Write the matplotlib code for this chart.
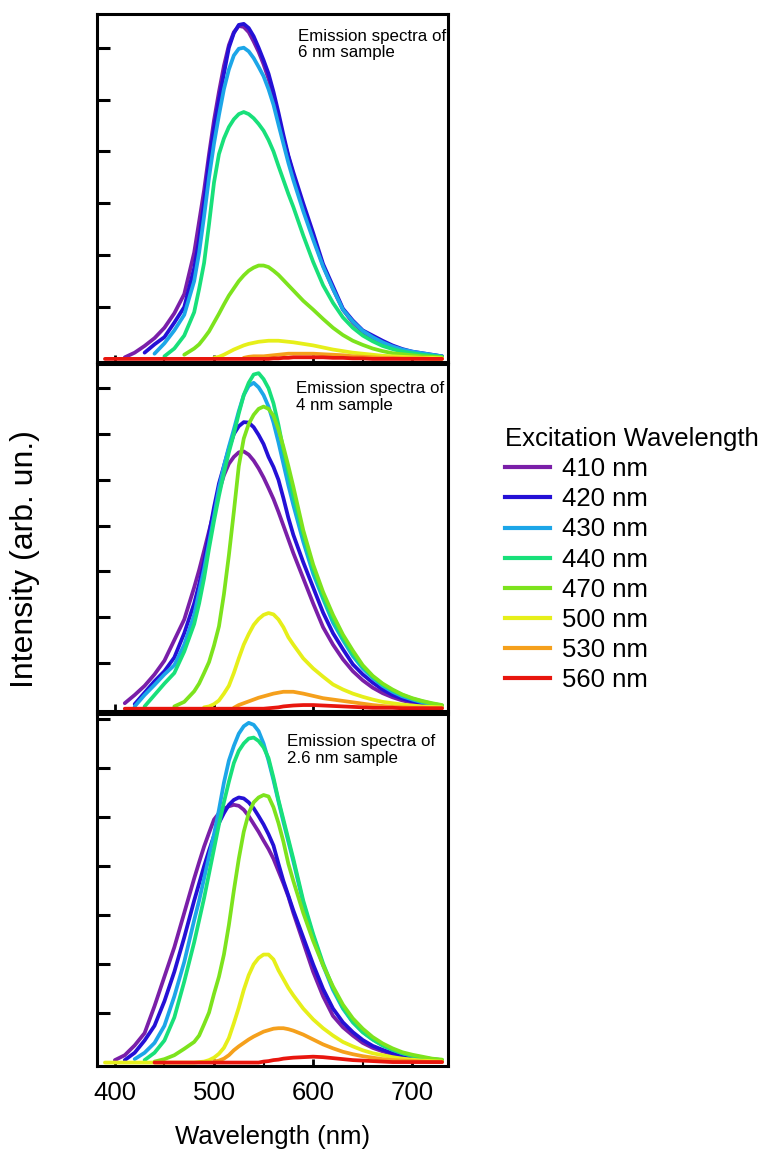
import numpy as np
import matplotlib
matplotlib.use('Agg')
import matplotlib.pyplot as plt
from matplotlib.lines import Line2D

plt.rcParams['font.family'] = ['Liberation Sans', 'DejaVu Sans']

nan = np.nan

# emission wavelength grid (nm), finer around the peaks
wavelengths = [390, 400, 410, 420, 430, 440, 450, 460, 470,
               480, 485, 490, 495, 500, 505, 510, 515, 520, 525, 530, 535, 540,
               545, 550, 555, 560, 565, 570, 575, 580,
               590, 600, 610, 620, 630, 640, 650, 660, 670, 680, 690, 700, 710, 720, 730]

excitation = ['410 nm', '420 nm', '430 nm', '440 nm', '470 nm', '500 nm', '530 nm', '560 nm']
colors = ['#7a1fa8', '#2410d6', '#1ca6e8', '#18e07a', '#7de31d', '#e6ef1a', '#f5a01c', '#e8160e']

# 6 nm sample
top_410 = [nan, nan, 0.03, 0.12, 0.25, 0.40, 0.60, 0.88, 1.25,
           2.05, 2.65, 3.25, 3.95, 4.60, 5.15, 5.65, 6.05, 6.30, 6.42, 6.40, 6.30, 6.12,
           5.92, 5.68, 5.40, 5.05, 4.65, 4.25, 3.90, 3.55,
           2.90, 2.35, 1.80, 1.35, 0.95, 0.70, 0.52, 0.40, 0.30, 0.22, 0.17, 0.13, 0.10, 0.07, 0.05]
top_420 = [nan, nan, nan, nan, 0.12, 0.28, 0.42, 0.70, 1.00,
           1.75, 2.30, 3.00, 3.82, 4.45, 5.00, 5.50, 6.00, 6.28, 6.44, 6.46, 6.38, 6.22,
           6.00, 5.76, 5.50, 5.15, 4.75, 4.32, 3.92, 3.60,
           3.00, 2.43, 1.83, 1.40, 0.97, 0.74, 0.55, 0.45, 0.35, 0.26, 0.19, 0.14, 0.11, 0.08, 0.05]
top_430 = [nan, nan, nan, nan, nan, 0.10, 0.30, 0.55, 0.85,
           1.50, 2.05, 2.75, 3.50, 4.15, 4.70, 5.20, 5.58, 5.85, 5.98, 6.00, 5.93, 5.80,
           5.63, 5.45, 5.20, 4.90, 4.52, 4.15, 3.78, 3.45,
           2.85, 2.30, 1.78, 1.35, 0.95, 0.72, 0.54, 0.42, 0.32, 0.24, 0.18, 0.14, 0.11, 0.08, 0.05]
top_440 = [nan, nan, nan, nan, nan, nan, 0.05, 0.20, 0.45,
           0.90, 1.35, 1.85, 2.60, 3.40, 3.95, 4.25, 4.47, 4.62, 4.72, 4.76, 4.72, 4.64,
           4.53, 4.40, 4.22, 4.00, 3.72, 3.45, 3.18, 2.93,
           2.38, 1.87, 1.42, 1.08, 0.80, 0.60, 0.45, 0.34, 0.25, 0.19, 0.14, 0.11, 0.08, 0.06, 0.04]
top_470 = [nan, nan, nan, nan, nan, nan, nan, nan, 0.08,
           0.20, 0.28, 0.40, 0.53, 0.70, 0.87, 1.05, 1.22, 1.36, 1.50, 1.61, 1.70, 1.76,
           1.80, 1.80, 1.77, 1.70, 1.62, 1.52, 1.42, 1.32,
           1.12, 0.95, 0.77, 0.60, 0.46, 0.35, 0.27, 0.20, 0.15, 0.11, 0.09, 0.07, 0.05, 0.04, 0.03]
top_500 = [nan, nan, nan, nan, nan, nan, nan, nan, nan,
           nan, nan, nan, nan, 0.02, 0.04, 0.08, 0.13, 0.18, 0.22, 0.26, 0.29, 0.31,
           0.33, 0.34, 0.35, 0.35, 0.35, 0.34, 0.33, 0.32,
           0.29, 0.26, 0.22, 0.18, 0.15, 0.12, 0.10, 0.08, 0.06, 0.05, 0.04, 0.03, 0.02, 0.02, 0.01]
top_530 = [nan, nan, nan, nan, nan, nan, nan, nan, nan,
           nan, nan, nan, nan, nan, nan, nan, nan, nan, nan, 0.02, 0.04, 0.05,
           0.05, 0.05, 0.06, 0.07, 0.08, 0.09, 0.10, 0.10,
           0.10, 0.10, 0.09, 0.08, 0.07, 0.05, 0.04, 0.03, 0.02, 0.02, 0.01, 0.01, 0.01, 0.00, 0.00]
top_560 = [0.00, 0.00, 0.00, 0.00, 0.00, 0.00, 0.00, 0.00, 0.00,
           0.00, 0.00, 0.00, 0.00, 0.00, 0.00, 0.00, 0.00, 0.00, 0.00, 0.00, 0.00, 0.00,
           0.00, 0.00, 0.00, 0.01, 0.01, 0.02, 0.02, 0.03,
           0.03, 0.03, 0.03, 0.02, 0.02, 0.01, 0.01, 0.00, 0.00, 0.00, 0.00, 0.00, 0.00, 0.00, 0.00]

# 4 nm sample
mid_410 = [nan, nan, 0.12, 0.30, 0.50, 0.75, 1.05, 1.50, 1.95,
           2.65, 3.03, 3.45, 3.88, 4.30, 4.75, 5.10, 5.35, 5.50, 5.60, 5.62, 5.55, 5.42,
           5.25, 5.05, 4.82, 4.58, 4.30, 4.00, 3.70, 3.40,
           2.85, 2.30, 1.78, 1.40, 1.08, 0.82, 0.62, 0.46, 0.34, 0.25, 0.18, 0.13, 0.10, 0.07, 0.05]
mid_420 = [nan, nan, nan, 0.10, 0.35, 0.60, 0.82, 1.12, 1.65,
           2.30, 2.72, 3.20, 3.82, 4.40, 4.92, 5.30, 5.68, 6.00, 6.17, 6.26, 6.25, 6.15,
           5.98, 5.78, 5.50, 5.28, 5.00, 4.60, 4.17, 3.80,
           3.20, 2.65, 2.10, 1.65, 1.30, 0.97, 0.75, 0.57, 0.42, 0.30, 0.22, 0.16, 0.12, 0.08, 0.05]
mid_430 = [nan, nan, nan, 0.05, 0.30, 0.52, 0.75, 0.95, 1.40,
           2.05, 2.55, 3.05, 3.62, 4.20, 4.82, 5.30, 5.72, 6.10, 6.50, 6.85, 7.05, 7.12,
           7.02, 6.85, 6.60, 6.25, 5.82, 5.35, 4.88, 4.45,
           3.65, 2.95, 2.40, 1.88, 1.50, 1.15, 0.88, 0.67, 0.50, 0.37, 0.27, 0.20, 0.14, 0.10, 0.06]
mid_440 = [nan, nan, nan, nan, 0.05, 0.30, 0.55, 0.78, 1.25,
           1.85, 2.30, 2.85, 3.50, 4.10, 4.65, 5.15, 5.60, 6.00, 6.45, 6.85, 7.12, 7.30,
           7.33, 7.20, 7.00, 6.67, 6.20, 5.65, 5.15, 4.65,
           3.80, 3.05, 2.45, 1.95, 1.55, 1.20, 0.92, 0.70, 0.53, 0.40, 0.30, 0.22, 0.16, 0.11, 0.07]
mid_470 = [nan, nan, nan, nan, nan, nan, nan, 0.05, 0.15,
           0.38, 0.55, 0.78, 1.02, 1.38, 1.80, 2.50, 3.35, 4.30, 5.30, 5.90, 6.22, 6.42,
           6.55, 6.60, 6.55, 6.40, 6.10, 5.72, 5.30, 4.85,
           3.90, 3.15, 2.55, 2.05, 1.62, 1.27, 0.95, 0.72, 0.55, 0.42, 0.31, 0.23, 0.17, 0.12, 0.08]
mid_500 = [nan, nan, nan, nan, nan, nan, nan, nan, nan,
           nan, nan, 0.03, 0.05, 0.10, 0.18, 0.33, 0.50, 0.78, 1.10, 1.40, 1.63, 1.83,
           1.96, 2.05, 2.09, 2.06, 1.95, 1.78, 1.56, 1.40,
           1.10, 0.88, 0.70, 0.53, 0.42, 0.33, 0.26, 0.20, 0.15, 0.12, 0.09, 0.07, 0.05, 0.04, 0.03]
mid_530 = [nan, nan, nan, nan, nan, nan, nan, nan, nan,
           nan, nan, nan, nan, nan, nan, nan, nan, 0.02, 0.08, 0.12, 0.16, 0.20,
           0.24, 0.27, 0.30, 0.33, 0.35, 0.37, 0.37, 0.37,
           0.33, 0.28, 0.23, 0.20, 0.17, 0.14, 0.11, 0.08, 0.06, 0.04, 0.03, 0.02, 0.02, 0.01, 0.01]
mid_560 = [nan, nan, 0.00, 0.00, 0.00, 0.00, 0.00, 0.00, 0.00,
           0.00, 0.00, 0.00, 0.00, 0.00, 0.00, 0.00, 0.00, 0.00, 0.00, 0.00, 0.00, 0.00,
           0.00, 0.00, 0.01, 0.02, 0.03, 0.05, 0.06, 0.07,
           0.08, 0.08, 0.07, 0.06, 0.05, 0.04, 0.03, 0.02, 0.02, 0.02, 0.01, 0.01, 0.01, 0.01, 0.01]

# 2.6 nm sample
bot_410 = [nan, 0.05, 0.15, 0.35, 0.60, 1.15, 1.75, 2.35, 3.05,
           3.75, 4.08, 4.40, 4.68, 4.95, 5.08, 5.17, 5.22, 5.25, 5.23, 5.15, 5.02, 4.86,
           4.70, 4.52, 4.35, 4.15, 3.90, 3.65, 3.38, 3.05,
           2.45, 1.85, 1.35, 0.95, 0.72, 0.55, 0.40, 0.30, 0.23, 0.17, 0.13, 0.10, 0.07, 0.05, 0.03]
bot_420 = [nan, nan, 0.05, 0.20, 0.45, 0.75, 1.25, 1.85, 2.55,
           3.30, 3.65, 4.00, 4.32, 4.62, 4.88, 5.08, 5.25, 5.35, 5.40, 5.38, 5.30, 5.18,
           5.02, 4.85, 4.65, 4.42, 4.05, 3.70, 3.40, 3.10,
           2.55, 2.00, 1.50, 1.10, 0.82, 0.62, 0.46, 0.34, 0.26, 0.19, 0.14, 0.10, 0.07, 0.05, 0.03]
bot_430 = [nan, nan, nan, 0.07, 0.20, 0.40, 0.75, 1.35, 2.05,
           2.90, 3.30, 3.75, 4.20, 4.65, 5.15, 5.70, 6.15, 6.45, 6.70, 6.85, 6.92, 6.88,
           6.75, 6.50, 6.15, 5.75, 5.32, 4.90, 4.50, 4.10,
           3.25, 2.58, 1.98, 1.48, 1.10, 0.82, 0.62, 0.47, 0.35, 0.26, 0.19, 0.14, 0.10, 0.07, 0.05]
bot_440 = [nan, nan, nan, nan, 0.05, 0.20, 0.45, 0.92, 1.65,
           2.45, 2.90, 3.35, 3.85, 4.35, 4.85, 5.30, 5.72, 6.10, 6.35, 6.50, 6.60, 6.62,
           6.55, 6.42, 6.20, 5.80, 5.35, 4.95, 4.55, 4.15,
           3.30, 2.62, 2.02, 1.52, 1.12, 0.83, 0.62, 0.47, 0.35, 0.26, 0.19, 0.14, 0.10, 0.07, 0.05]
bot_470 = [nan, nan, nan, nan, nan, 0.02, 0.07, 0.15, 0.28,
           0.42, 0.55, 0.78, 1.02, 1.40, 1.75, 2.20, 2.80, 3.50, 4.15, 4.70, 5.08, 5.30,
           5.40, 5.45, 5.42, 5.20, 4.88, 4.50, 4.05, 3.70,
           3.05, 2.48, 1.98, 1.55, 1.18, 0.90, 0.69, 0.52, 0.39, 0.29, 0.21, 0.16, 0.12, 0.08, 0.06]
bot_500 = [0.00, 0.00, 0.00, 0.00, 0.00, 0.00, 0.00, 0.00, 0.00,
           0.00, 0.01, 0.02, 0.05, 0.10, 0.18, 0.30, 0.50, 0.80, 1.12, 1.48, 1.78, 2.00,
           2.13, 2.20, 2.20, 2.10, 1.88, 1.70, 1.52, 1.37,
           1.10, 0.88, 0.70, 0.55, 0.42, 0.33, 0.25, 0.19, 0.15, 0.11, 0.08, 0.06, 0.04, 0.03, 0.02]
bot_530 = [nan, nan, nan, nan, nan, nan, nan, nan, nan,
           nan, nan, nan, nan, 0.02, 0.04, 0.08, 0.15, 0.25, 0.33, 0.40, 0.47, 0.53,
           0.58, 0.63, 0.66, 0.69, 0.70, 0.70, 0.68, 0.65,
           0.57, 0.47, 0.37, 0.29, 0.22, 0.17, 0.13, 0.10, 0.07, 0.05, 0.04, 0.03, 0.02, 0.01, 0.01]
bot_560 = [nan, nan, nan, nan, nan, 0.00, 0.00, 0.00, 0.00,
           0.00, 0.00, 0.00, 0.00, 0.00, 0.00, 0.00, 0.00, 0.00, 0.00, 0.00, 0.00, 0.00,
           0.00, 0.02, 0.03, 0.05, 0.06, 0.08, 0.09, 0.10,
           0.11, 0.12, 0.11, 0.09, 0.07, 0.05, 0.04, 0.03, 0.02, 0.01, 0.01, 0.01, 0.01, 0.01, 0.01]

panels = [
    ([top_410, top_420, top_430, top_440, top_470, top_500, top_530, top_560],
     'Emission spectra of\n6 nm sample', (-0.06, 6.65), 6),
    ([mid_410, mid_420, mid_430, mid_440, mid_470, mid_500, mid_530, mid_560],
     'Emission spectra of\n4 nm sample', (-0.05, 7.53), 7),
    ([bot_410, bot_420, bot_430, bot_440, bot_470, bot_500, bot_530, bot_560],
     'Emission spectra of\n2.6 nm sample', (-0.07, 7.1), 7),
]

W, H = 763, 1151
fig = plt.figure(figsize=(W / 100, H / 100), dpi=100)

# panel boxes in pixels (top, bottom)
boxes = [(14, 362), (364, 711), (714, 1066)]
text_pos = [(0.573, 0.958), (0.567, 0.950), (0.540, 0.942)]
left_px, right_px = 97, 448

for i, (series, label, ylim, ntick) in enumerate(panels):
    top_px, bot_px = boxes[i]
    ax = fig.add_axes([left_px / W, 1 - bot_px / H, (right_px - left_px) / W, (bot_px - top_px) / H])
    for vals, c in zip(series, colors):
        ax.plot(wavelengths, np.array(vals, dtype=float), color=c, lw=2.7,
                solid_joinstyle='round', solid_capstyle='round')
    ax.set_xlim(382, 736)
    ax.set_ylim(*ylim)
    ax.set_yticks(range(1, ntick + 1))
    ax.set_yticklabels([])
    ax.set_xticks([400, 500, 600, 700])
    ax.set_xticks([450, 550, 650], minor=True)
    ax.tick_params(axis='y', direction='in', length=9, width=2.2)
    ax.tick_params(axis='x', which='major', direction='in', length=5, width=2, labelsize=18.5, pad=11)
    ax.tick_params(axis='x', which='minor', direction='in', length=3, width=1.5)
    if i < 2:
        ax.set_xticklabels([])
    for sp in ax.spines.values():
        sp.set_linewidth(2.2)
    ax.text(text_pos[i][0], text_pos[i][1], label, transform=ax.transAxes,
            fontsize=12.2, va='top', ha='left', linespacing=1.1)

fig.text((left_px + right_px) / 2 / W, 1 - 1137 / H, 'Wavelength (nm)',
         fontsize=18.5, ha='center', va='center')
fig.text(25 / W, 1 - 559 / H, 'Intensity (arb. un.)', fontsize=23,
         rotation=90, ha='center', va='center')

handles = [Line2D([], [], color=c, lw=3) for c in colors]
fig.legend(handles, excitation, title='Excitation Wavelength', loc='upper left',
           bbox_to_anchor=(505 / W, 1 - 427 / H), frameon=False, fontsize=18.5,
           title_fontsize=18.5, handlelength=1.75, handletextpad=0.45,
           labelspacing=0.24, borderaxespad=0, borderpad=0, alignment='left')

fig.savefig('out.png', dpi=100)
